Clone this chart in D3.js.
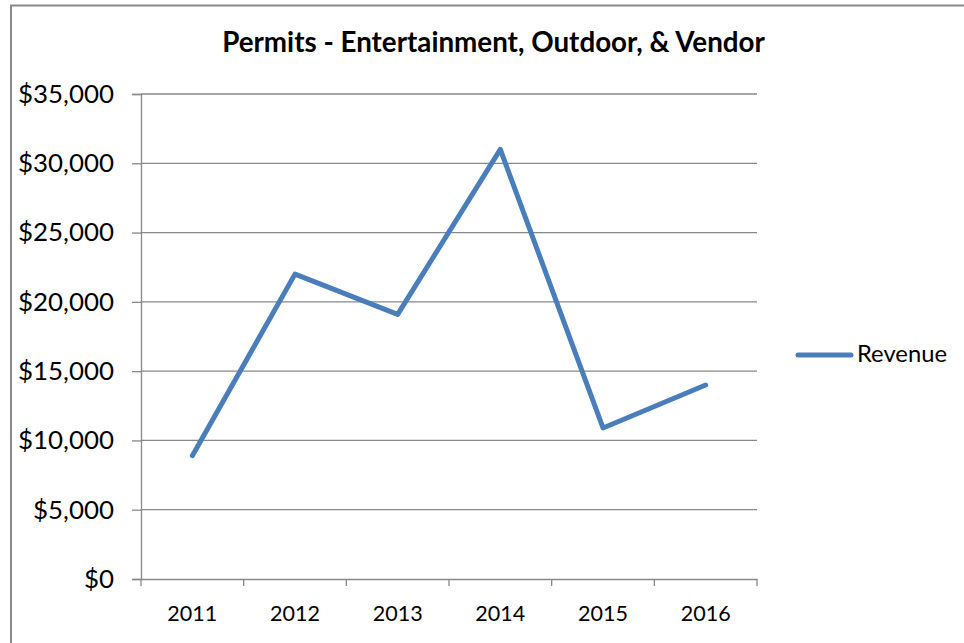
<!DOCTYPE html>
<html>
<head>
<meta charset="utf-8">
<script src="https://cdn.jsdelivr.net/npm/d3@7"></script>
<style>
  body { margin: 0; background: #fff; }
  svg { display: block; }
  text { font-family: Lato, "Noto Sans", sans-serif; fill: #000; }
</style>
</head>
<body>
<svg id="chart" width="964" height="643"></svg>
<script>
const titleText = "Permits - Entertainment, Outdoor, & Vendor";
const seriesName = "Revenue";
const years = ["2011", "2012", "2013", "2014", "2015", "2016"];
const revenue = [8900, 22000, 19100, 31000, 10900, 14000];
const yTicks = [0, 5000, 10000, 15000, 20000, 25000, 30000, 35000];

(function () {
const svg = d3.select("#chart");
const gridColor = "#888888";
const lineColor = "#4a7ebb";

// frame
svg.append("path")
  .attr("d", "M11,643 V5.5 H964")
  .attr("fill", "none").attr("stroke", "#8a8a8a").attr("stroke-width", 2);

const pLeft = 141, pRight = 757, pTop = 94, pBottom = 579;
const x = d3.scaleBand().domain(years).range([pLeft, pRight]);
const y = d3.scaleLinear().domain([0, 35000]).range([pBottom, pTop]);

function fitWidth(sel, target) {
  const node = sel.node();
  const fs = parseFloat(sel.attr("font-size"));
  const w = node.getComputedTextLength();
  return fs * target / w;
}

// gridlines
svg.append("g").selectAll("line").data(yTicks.filter(d => d > 0)).join("line")
  .attr("x1", pLeft).attr("x2", pRight)
  .attr("y1", d => y(d)).attr("y2", d => y(d))
  .attr("stroke", gridColor).attr("stroke-width", 1.3);

// y axis
const yAxis = svg.append("g").attr("transform", `translate(${pLeft},0)`)
  .call(d3.axisLeft(y).tickValues(yTicks).tickSize(9).tickPadding(18)
    .tickFormat(d => "$" + d3.format(",")(d)));
yAxis.select(".domain").attr("stroke", gridColor).attr("stroke-width", 1.3);
yAxis.selectAll(".tick line").attr("stroke", gridColor).attr("stroke-width", 1.3);
yAxis.selectAll("text").attr("font-size", 19).attr("font-family", "Lato, 'Noto Sans', sans-serif");
{
  const t = yAxis.selectAll("text").filter(d => d === 35000);
  const fs = fitWidth(t, 96);
  yAxis.selectAll("text").attr("font-size", fs);
}

// x axis
const xAxis = svg.append("g").attr("transform", `translate(0,${pBottom})`)
  .call(d3.axisBottom(x).tickSize(0).tickPadding(27));
xAxis.select(".domain").attr("stroke", gridColor).attr("stroke-width", 1.3);
xAxis.selectAll("text").attr("font-size", 19).attr("font-family", "Lato, 'Noto Sans', sans-serif");
{
  const t = xAxis.selectAll("text").filter(d => d === "2011");
  const fs = fitWidth(t, 50);
  xAxis.selectAll("text").attr("font-size", fs);
}
const bounds = years.map(d => x(d)).concat([x(years[years.length - 1]) + x.step()]);
svg.append("g").selectAll("line").data(bounds).join("line")
  .attr("x1", d => d).attr("x2", d => d)
  .attr("y1", pBottom).attr("y2", pBottom + 7)
  .attr("stroke", gridColor).attr("stroke-width", 1.3);

// line
const line = d3.line()
  .x((d, i) => x(years[i]) + x.bandwidth() / 2)
  .y(d => y(d));
svg.append("path").datum(revenue)
  .attr("d", line)
  .attr("fill", "none").attr("stroke", lineColor)
  .attr("stroke-width", 5).attr("stroke-linecap", "round").attr("stroke-linejoin", "round");

// title
const title = svg.append("text")
  .attr("x", 493.5).attr("y", 52).attr("text-anchor", "middle")
  .attr("font-weight", "bold").attr("font-size", 22).text(titleText);
title.attr("font-size", fitWidth(title, 543));

// legend
svg.append("line").attr("x1", 798).attr("x2", 851).attr("y1", 355).attr("y2", 355)
  .attr("stroke", lineColor).attr("stroke-width", 5).attr("stroke-linecap", "round");
const lt = svg.append("text").attr("x", 857).attr("y", 362).attr("font-size", 19).text(seriesName);
lt.attr("font-size", fitWidth(lt, 90));
})();
</script>
</body>
</html>
